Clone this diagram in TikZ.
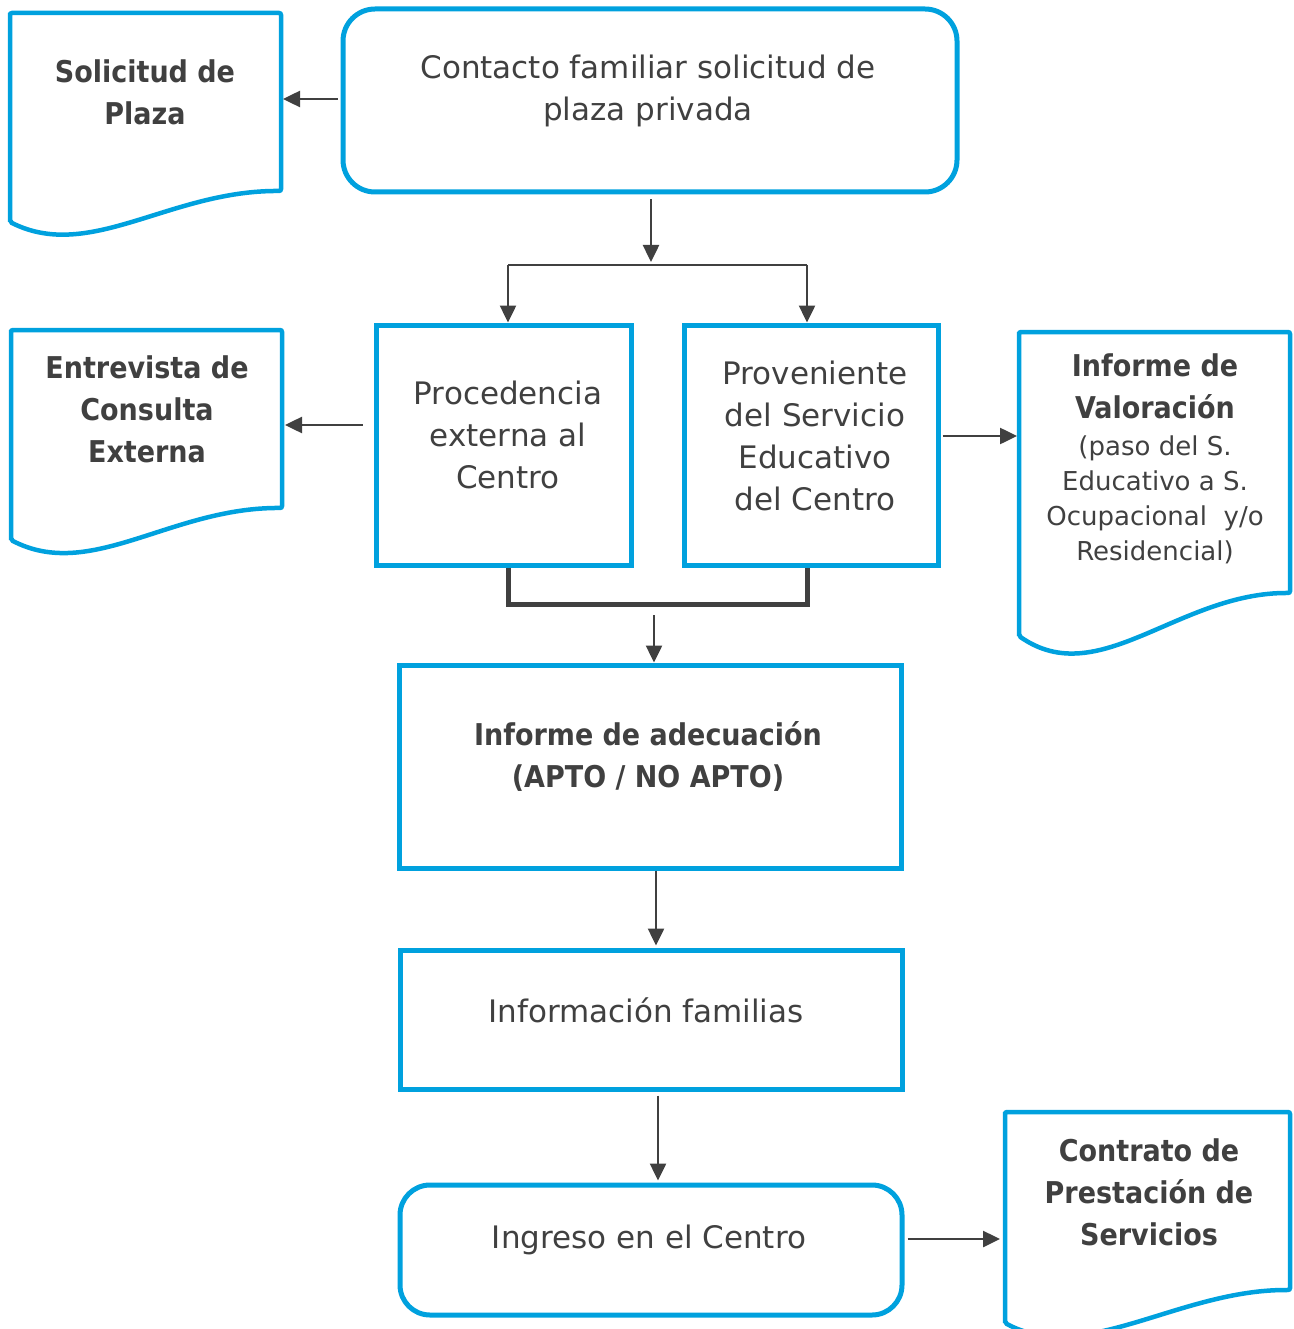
\documentclass[tikz,border=0pt]{standalone}
\usepackage{fontspec}
\setmainfont{DejaVu Sans}[BoldFont={DejaVu Sans Condensed Bold}]
\usetikzlibrary{arrows.meta,calc}
\definecolor{azul}{RGB}{0,161,222}
\definecolor{gris}{RGB}{64,64,64}

\begin{document}
\begin{tikzpicture}[x=1pt,y=-1pt]
    \tikzstyle{box}=[draw=azul,line width=5pt,inner sep=0pt]
    \tikzstyle{roundbox}=[box,rounded corners=32pt]
    \tikzstyle{doc}=[inner sep=0pt,outer sep=0pt]
    \tikzstyle{wave}=[draw=azul,line width=4.5pt,rounded corners=2pt]
    \tikzstyle{txt}=[text=gris,align=center,font=\fontsize{31}{42}\selectfont]
    \tikzstyle{small}=[text=gris,align=center,font=\fontsize{26}{35}\selectfont]
    \tikzstyle{head}=[text=gris,align=center,font=\fontsize{30}{42}\selectfont\bfseries]
    \tikzstyle{arr}=[draw=gris,line width=2.5pt,-{Triangle[length=17pt,width=16pt]}]
    \tikzstyle{bracket}=[draw=gris,line width=5pt]

    \useasboundingbox (0,0) rectangle (1293,1329);

    % boxes
    \node[roundbox,minimum width=614,minimum height=183] at (650,100.5) (conb) {};
    \node[box,minimum width=255,minimum height=240] at (503.5,445) (proc) {};
    \node[box,minimum width=254,minimum height=240] at (811,445) (prov) {};
    \node[box,minimum width=502,minimum height=203] at (650,766.5) (adec) {};
    \node[box,minimum width=502,minimum height=139] at (651,1019.5) (fam) {};
    \node[roundbox,rounded corners=30pt,minimum width=502,minimum height=130] at (651,1250) (ing) {};

    % documents
    \node[doc,minimum width=271,minimum height=178] at (145.5,102) (sol) {};
    \node[doc,minimum width=271,minimum height=178] at (146.5,419) (ent) {};
    \node[doc,minimum width=271,minimum height=261] at (1154.5,462.5) (val) {};
    \node[doc,minimum width=285,minimum height=178] at (1147.5,1201) (con) {};
    \foreach \d/\h in {sol/31,ent/32,val/43,con/33}
        \draw[wave] ($(\d.south west)+(0,\h)$) -- (\d.north west) -- (\d.north east) -- (\d.south east)
            .. controls +(-111,-1) and +(80,1.3*\h) .. ($(\d.south west)+(0,\h)$) -- (\d.north west);

    % texts
    \node[head] at (145,92) (solt) {Solicitud de\\Plaza};
    \node[txt] at (648,91) (cont) {Contacto familiar solicitud de\\plaza privada};
    \node[head] at (147,409) (entt) {Entrevista de\\Consulta\\Externa};
    \node[txt] at (508,435) (proct) {Procedencia\\externa al\\Centro};
    \node[txt] at (815,436) (provt) {Proveniente\\del Servicio\\Educativo\\del Centro};
    \node[head] at (1155,386) (valt) {Informe de\\Valoración};
    \node[small] at (1155,500) (valb) {(paso del S.\\Educativo a S.\\Ocupacional\ \ y/o\\Residencial)};
    \node[head] at (648,756) (adect) {Informe de adecuación\\(APTO / NO APTO)};
    \node[txt] at (646,1010) (famt) {Información familias};
    \node[txt] at (649,1240) (ingt) {Ingreso en el Centro};
    \node[head] at (1149,1192) (cont2) {Contrato de\\Prestación de\\Servicios};

    % connectors
    \coordinate (split) at (651,262);
    \coordinate (join) at (654,604);
    \coordinate (forkl) at ($(proc.north |- 0,265)+(4.5,0)$);
    \coordinate (forkr) at ($(prov.north |- 0,265)+(-4,0)$);
    \draw[arr,shorten <=3pt,shorten >=2pt] ([yshift=1.5pt]conb.west) -- ([yshift=1.5pt]conb.west -| sol.east);
    \draw[arr,shorten <=5pt] ([xshift=1pt]conb.south) -- (split);
    \draw[draw=gris,line width=2.5pt] (forkl) -- (forkr);
    \draw[arr] (forkl) -- (forkl |- proc.north);
    \draw[arr] (forkr) -- (forkr |- prov.north);
    \draw[arr,shorten <=11pt,shorten >=3pt] ([yshift=20pt]proc.west) -- ([yshift=20pt]proc.west -| ent.east);
    \draw[arr,shorten <=2pt,shorten >=2pt] ([yshift=9pt]prov.east) -- ([yshift=9pt]prov.east -| val.west);
    \draw[bracket] (forkl |- proc.south) -- (forkl |- join) -- (forkr |- join) -- (forkr |- prov.south);
    \draw[arr,shorten <=11pt] (join) -- (join |- adec.north);
    \draw[arr,shorten >=2pt] ([xshift=6pt]adec.south) -- ([xshift=6pt]adec.south |- fam.north);
    \draw[arr,shorten <=4pt,shorten >=2pt] ([xshift=7pt]fam.south) -- ([xshift=7pt]fam.south |- ing.north);
    \draw[arr,shorten <=3pt,shorten >=5pt] ([yshift=11pt]ing.east) -- ([yshift=11pt]ing.east -| con.west);
\end{tikzpicture}
\end{document}
